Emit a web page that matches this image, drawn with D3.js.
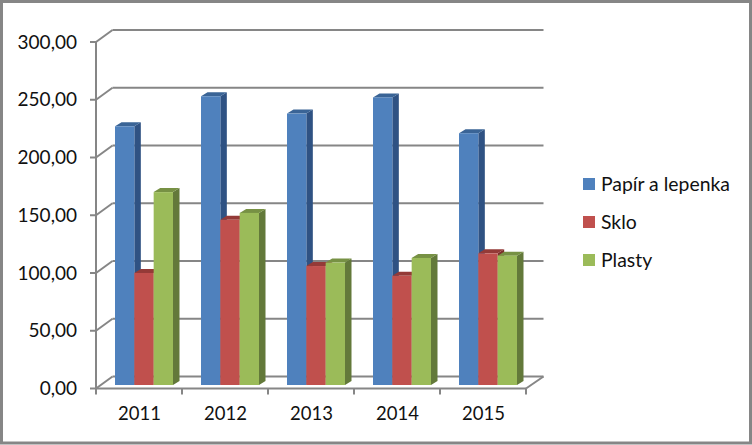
<!DOCTYPE html>
<html><head><meta charset="utf-8">
<script src="https://cdn.jsdelivr.net/npm/d3@7"></script>
<style>html,body{margin:0;padding:0;background:#fff}svg{display:block}text{font-family:Lato,"Open Sans",sans-serif;fill:#111}</style>
</head><body><svg id="c" width="752" height="445"></svg>
<script>
const years = ["2011","2012","2013","2014","2015"];
const seriesNames = ["Papír a lepenka","Sklo","Plasty"];
const papir = [224,250,235,249,218];
const sklo = [97,143,103,94.5,114];
const plasty = [167,149,106,110,112];
const yTicks = [0,50,100,150,200,250,300];
const fronts = ["#4f81bd","#c0504d","#9bbb59"];
const tops = ["#3a6496","#943a37","#779144"];
const sides = ["#2f5283","#7d2f2c","#63793a"];

const svg = d3.select("#c");
const grid = "#868686";
const y = d3.scaleLinear().domain([0,300]).range([388.5,42]);
const x0 = d3.scaleBand().domain(years).range([96,526]);
const x1 = d3.scaleBand().domain(seriesNames).range([19,77]);
const wallDx = 16.5, wallDy = -12;
const barLift = -3.5, depthX = 6.5, depthY = -4;

svg.append("rect").attr("x",1.5).attr("y",1.5).attr("width",749).attr("height",441.5)
  .attr("fill","#fff").attr("stroke",grid).attr("stroke-width",3);

const line = (a,b,c,d)=>svg.append("line").attr("x1",a).attr("y1",b).attr("x2",c).attr("y2",d)
  .attr("stroke",grid).attr("stroke-width",2);

yTicks.forEach(v=>{
  const yy=y(v);
  line(90,yy,96,yy);
  line(96,yy,96+wallDx,yy+wallDy);
  line(96+wallDx,yy+wallDy,526+wallDx+1,yy+wallDy);
  svg.append("text").attr("x",77).attr("y",yy+6.5).attr("text-anchor","end")
    .attr("font-size",19).text(d3.format(".2f")(v).replace(".",","));
});
line(96,y(0),96,y(300));
line(96,y(0),526,y(0));
line(526,y(0),526+wallDx+1,y(0)+wallDy);
x0.domain().forEach(c=>line(x0(c),y(0),x0(c),y(0)+6));
line(526,y(0),526,y(0)+6);

years.forEach((yr,i)=>{
  svg.append("text").attr("x",x0(yr)+43.5).attr("y",420).attr("text-anchor","middle")
    .attr("font-size",18.5).text(yr);
  [papir,sklo,plasty].forEach((vals,s)=>{
    const l=x0(yr)+x1(seriesNames[s]), r=l+x1.bandwidth();
    const b=y(0)+barLift, t=y(vals[i])+barLift;
    svg.append("path").attr("fill",sides[s])
      .attr("d",d3.line()([[r,b],[r+depthX,b+depthY],[r+depthX,t+depthY],[r,t]]));
    svg.append("path").attr("fill",tops[s])
      .attr("d",d3.line()([[l,t],[l+depthX,t+depthY],[r+depthX,t+depthY],[r,t]]));
    svg.append("rect").attr("x",l).attr("y",t).attr("width",r-l).attr("height",b-t).attr("fill",fronts[s]);
  });
});

const legendY = d3.scalePoint().domain(seriesNames).range([184,260]);
seriesNames.forEach((n,s)=>{
  svg.append("rect").attr("x",583).attr("y",legendY(n)-6).attr("width",12).attr("height",12).attr("fill",fronts[s]);
  svg.append("text").attr("x",601).attr("y",legendY(n)+6.5).attr("font-size",19.4).text(n);
});
</script></body></html>
